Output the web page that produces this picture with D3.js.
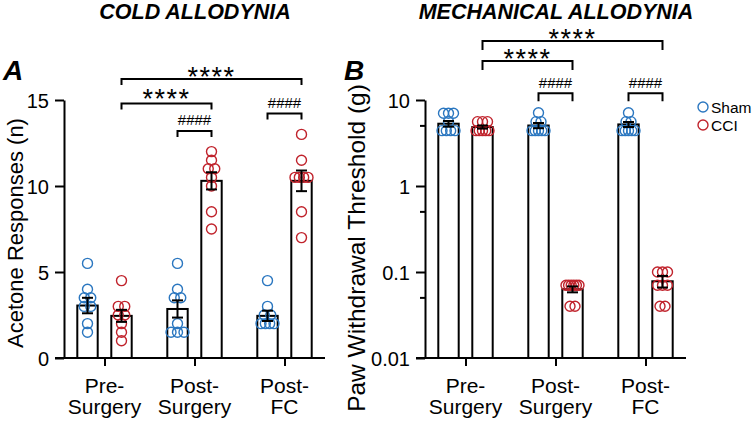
<!DOCTYPE html>
<html><head><meta charset="utf-8">
<script src="https://cdn.jsdelivr.net/npm/d3@7"></script>
<style>
body{margin:0;background:#fff}
svg{display:block}
text{font-family:"Liberation Sans",Arial,Helvetica,sans-serif;fill:#000}
</style>
</head><body>
<svg id="c" width="753" height="426"></svg>
<script>
// ---------- data ----------
const categories = [["Pre-","Surgery"],["Post-","Surgery"],["Post-","FC"]];
const groups = ["Sham","CCI"];
const colors = {Sham:"#2b77c0", CCI:"#c0232c"};

// Cold allodynia (acetone responses, n)
const coldTicks = [0,5,10,15];
const coldShamMean = [3.05, 2.85, 2.45];
const coldShamSem  = [0.45, 0.5, 0.3];
const coldCciMean  = [2.45, 10.3, 10.3];
const coldCciSem   = [0.35, 0.5, 0.6];
const coldShamPts = [
  [5.5, 4.0, 3.5, 3.5, 3.0, 3.0, 2.0, 1.5],
  [5.5, 4.0, 3.5, 3.5, 2.0, 1.5, 1.5, 1.5],
  [4.5, 3.0, 2.5, 2.5, 2.0, 2.0, 2.0, 2.0]
];
const coldCciPts = [
  [4.5, 3.0, 3.0, 2.5, 2.5, 2.0, 1.5, 1.0],
  [12.0, 11.5, 11.0, 11.0, 10.5, 10.0, 8.5, 7.5],
  [13.0, 11.5, 10.5, 10.5, 10.5, 10.5, 8.5, 7.0]
];

// Mechanical allodynia (paw withdrawal threshold, g)
const mechTicks = [0.01, 0.1, 1, 10];
const mechTickLabels = ["0.01","0.1","1","10"];
const mechMinorTicks = [0.05, 0.5, 5];
const mechShamMean = [5.3, 5.05, 5.2];
const mechShamSem  = [0.4, 0.35, 0.35];
const mechCciMean  = [4.85, 0.063, 0.078];
const mechCciSem   = [0.2, 0.005, 0.012];
const mechShamPts = [
  [7.0, 7.0, 7.0, 5.6, 4.4, 4.4, 4.4, 4.4],
  [7.1, 5.6, 5.6, 4.4, 4.4, 4.4, 4.4, 4.4],
  [7.1, 5.6, 5.6, 4.4, 4.4, 4.4, 4.4, 4.4]
];
const mechCciPts = [
  [5.6, 5.6, 5.6, 4.4, 4.4, 4.4, 4.4, 4.4],
  [0.07, 0.07, 0.07, 0.07, 0.07, 0.07, 0.04, 0.04],
  [0.1, 0.1, 0.1, 0.07, 0.07, 0.07, 0.04, 0.04]
];

// ---------- drawing ----------
const svg = d3.select("#c");
const TOP = 100, BOT = 358;

function drawPanel(cfg){
  const g = svg.append("g");
  const x = d3.scalePoint().domain(d3.range(categories.length)).range([cfg.x0, cfg.x1]).padding(0.45);
  const xs = d3.scaleBand().domain(groups).range([-34, 34]);
  const bw = xs.bandwidth()*0.6;
  const y = cfg.y;
  const sx = (i,grp) => x(i) + xs(grp) + xs.bandwidth()/2;

  // bars
  groups.forEach(grp => {
    g.selectAll(null).data(cfg.mean[grp]).enter().append("rect")
      .attr("x", (d,i) => sx(i,grp) - bw/2)
      .attr("y", d => y(d))
      .attr("width", bw)
      .attr("height", d => BOT - y(d))
      .attr("fill", "#fff").attr("stroke", "#000").attr("stroke-width", 2);
  });

  // points (rows of equal values spread side by side)
  groups.forEach(grp => {
    cfg.pts[grp].forEach((arr,i) => {
      const counts = d3.rollup(arr, v => v.length, d => d);
      const seen = new Map();
      const pos = arr.map(v => {
        const n = counts.get(v);
        const k = seen.get(v) || 0; seen.set(v, k+1);
        const s = n > 1 ? Math.min(cfg.spacing, cfg.maxSpan/(n-1)) : 0;
        return {v, dx: (k - (n-1)/2)*s};
      });
      g.selectAll(null).data(pos).enter().append("circle")
        .attr("cx", d => sx(i,grp) + d.dx)
        .attr("cy", d => y(d.v))
        .attr("r", 5)
        .attr("fill", "none")
        .attr("stroke", colors[grp]).attr("stroke-width", 1.4);
    });
  });

  // error bars
  groups.forEach(grp => {
    cfg.mean[grp].forEach((m,i) => {
      const s = cfg.sem[grp][i];
      const cx = sx(i,grp), y1 = y(m+s), y2 = y(m-s);
      g.append("line").attr("x1",cx).attr("x2",cx).attr("y1",y1).attr("y2",y2).attr("stroke","#000").attr("stroke-width",2);
      [y1,y2].forEach(yy => g.append("line").attr("x1",cx-5.5).attr("x2",cx+5.5).attr("y1",yy).attr("y2",yy).attr("stroke","#000").attr("stroke-width",2));
    });
  });

  // y axis
  const ya = d3.axisLeft(y).tickValues(cfg.ticks).tickSize(9).tickSizeOuter(0).tickPadding(6);
  if (cfg.tickLabels) ya.tickFormat((d,i) => cfg.tickLabels[i]);
  const yg = g.append("g").attr("transform", `translate(${cfg.x0},0)`).call(ya);
  yg.select(".domain").attr("stroke-width", 2);
  yg.selectAll(".tick line").attr("stroke-width", 2);
  yg.selectAll(".tick text").style("font-size","20px").attr("dy","0.36em");
  if (cfg.minor) {
    g.selectAll(null).data(cfg.minor).enter().append("line")
      .attr("x1", cfg.x0-5).attr("x2", cfg.x0).attr("y1", d=>y(d)).attr("y2", d=>y(d))
      .attr("stroke","#000").attr("stroke-width",2);
  }

  // x axis
  g.append("line").attr("x1", cfg.x0-9).attr("x2", cfg.x1).attr("y1", BOT).attr("y2", BOT).attr("stroke","#000").attr("stroke-width",2);
  const xa = d3.axisBottom(x).tickSize(8).tickSizeOuter(0).tickFormat("");
  const xg = g.append("g").attr("transform", `translate(0,${BOT})`).call(xa);
  xg.select(".domain").remove();
  xg.selectAll(".tick line").attr("stroke-width", 2);
  categories.forEach((c,i) => {
    const t = g.append("text").attr("text-anchor","middle").style("font-size","21px");
    t.append("tspan").attr("x", x(i)).attr("y", 393).text(c[0]);
    t.append("tspan").attr("x", x(i)).attr("y", 414).text(c[1]);
  });

  // y label
  g.append("text").attr("transform", `translate(${cfg.ylabX},${cfg.ylabY}) rotate(-90)`)
    .attr("text-anchor","middle").style("font-size", cfg.ylabSize).text(cfg.ylabel);

  // title + panel letter
  g.append("text").attr("x", cfg.titleX).attr("y", 19).attr("text-anchor","middle")
    .style("font-size","21.5px").style("font-weight","bold").style("font-style","italic").text(cfg.title);
  g.append("text").attr("x", cfg.letterX).attr("y", 80)
    .style("font-size","28px").style("font-weight","bold").style("font-style","italic").text(cfg.letter);

  // significance brackets
  cfg.brackets.forEach(b => {
    const xa1 = sx(b.a[0], b.a[1]), xb1 = sx(b.b[0], b.b[1]);
    g.append("path").attr("d", `M${xa1},${b.y+b.leg}V${b.y}H${xb1}V${b.y+b.leg}`)
      .attr("fill","none").attr("stroke","#000").attr("stroke-width",2);
    const star = b.label.startsWith("*");
    g.append("text").attr("x", (xa1+xb1)/2).attr("y", b.ty).attr("text-anchor","middle")
      .style("font-size", star ? "27px" : "15px")
      .style("letter-spacing", star ? "1.5px" : "0px")
      .text(b.label);
  });
}

drawPanel({
  x0: 64, x1: 325,
  y: d3.scaleLinear().domain([0,15]).range([BOT, TOP]),
  ticks: coldTicks,
  mean: {Sham: coldShamMean, CCI: coldCciMean},
  sem: {Sham: coldShamSem, CCI: coldCciSem},
  pts: {Sham: coldShamPts, CCI: coldCciPts},
  spacing: 6.5, maxSpan: 13,
  ylabel: "Acetone Responses (n)", ylabX: 23, ylabY: 233, ylabSize: "22px",
  title: "COLD ALLODYNIA", titleX: 195,
  letter: "A", letterX: 3,
  brackets: [
    {a:[0,"CCI"], b:[2,"CCI"], y:79, leg:6, ty:85.5, label:"****"},
    {a:[0,"CCI"], b:[1,"CCI"], y:103.5, leg:6, ty:107.5, label:"****"},
    {a:[2,"Sham"], b:[2,"CCI"], y:113.5, leg:6, ty:107.7, label:"####"},
    {a:[1,"Sham"], b:[1,"CCI"], y:131, leg:6, ty:124.7, label:"####"}
  ]
});

drawPanel({
  x0: 425, x1: 686,
  y: d3.scaleLog().domain([0.01,10]).range([BOT, TOP]),
  ticks: mechTicks, tickLabels: mechTickLabels, minor: mechMinorTicks,
  mean: {Sham: mechShamMean, CCI: mechCciMean},
  sem: {Sham: mechShamSem, CCI: mechCciSem},
  pts: {Sham: mechShamPts, CCI: mechCciPts},
  spacing: 5, maxSpan: 13,
  ylabel: "Paw Withdrawal Threshold (g)", ylabX: 365, ylabY: 248, ylabSize: "24.5px",
  title: "MECHANICAL ALLODYNIA", titleX: 556,
  letter: "B", letterX: 344,
  brackets: [
    {a:[0,"CCI"], b:[2,"CCI"], y:41, leg:9, ty:47.5, label:"****"},
    {a:[0,"CCI"], b:[1,"CCI"], y:61, leg:9, ty:67.5, label:"****"},
    {a:[1,"Sham"], b:[1,"CCI"], y:93.3, leg:8, ty:87.7, label:"####"},
    {a:[2,"Sham"], b:[2,"CCI"], y:93.3, leg:8, ty:87.7, label:"####"}
  ]
});

// legend
const leg = svg.append("g");
groups.forEach((grp,i) => {
  const yy = 107 + i*18;
  leg.append("circle").attr("cx", 703).attr("cy", yy).attr("r", 5).attr("fill","none")
    .attr("stroke", colors[grp]).attr("stroke-width", 1.4);
  leg.append("text").attr("x", 711).attr("y", yy).attr("dy","0.36em").style("font-size","15.5px").text(grp);
});
</script>
</body></html>
